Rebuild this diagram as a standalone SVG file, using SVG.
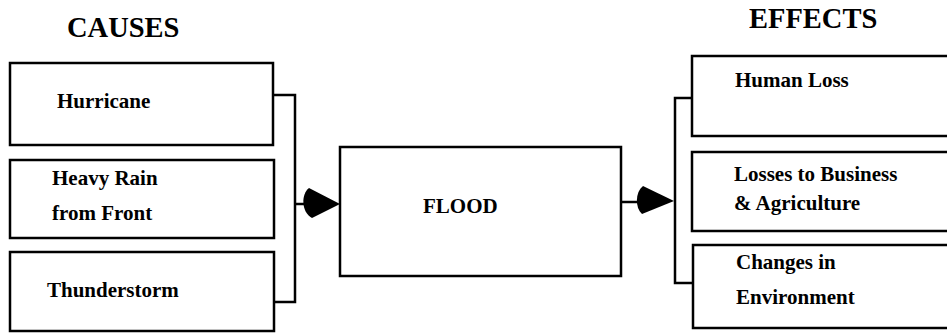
<svg xmlns="http://www.w3.org/2000/svg" width="947" height="334" viewBox="0 0 947 334">
<style>
.box{fill:#fff;stroke:#000;stroke-width:2.5}
.t{font-weight:bold;font-size:21px;fill:#000}
.h{font-weight:bold;font-size:28.5px;fill:#000}
.ln{fill:none;stroke:#000;stroke-width:2.5}
.ah{fill:#000;stroke:none}
</style>
<rect width="947" height="334" fill="#fff"/>
<g font-family="'Liberation Serif', 'Times New Roman', 'DejaVu Serif', serif">
<text class="h" x="67" y="37">CAUSES</text>
<text class="h" x="749" y="28">EFFECTS</text>
<g id="connectors">
<polyline class="ln" points="273,95 295,95 295,302 274,302"/>
<line class="ln" x1="295" y1="204" x2="306" y2="204"/>
<path class="ah" d="M340,204 L309,188 C301,194 301,212 312,218 Z"/>
<line class="ln" x1="621" y1="202" x2="640" y2="202"/>
<polyline class="ln" points="692,98 675,98 675,283 693,283"/>
<path class="ah" d="M674,201 L643,186 C635,192 635,208 642,214 Z"/>
</g>
<g id="hurricane"><rect class="box" x="10" y="63" width="263" height="82"/><text class="t" x="57" y="108">Hurricane</text></g>
<g id="heavy-rain"><rect class="box" x="10" y="160" width="264" height="78"/><text class="t" x="52" y="185">Heavy Rain</text><text class="t" x="52" y="220">from Front</text></g>
<g id="thunderstorm"><rect class="box" x="10" y="252" width="264" height="79"/><text class="t" x="47" y="297">Thunderstorm</text></g>
<g id="flood"><rect class="box" x="340" y="147" width="281" height="129"/><text class="t" x="423" y="213">FLOOD</text></g>
<g id="human-loss"><rect class="box" x="692" y="56" width="270" height="80"/><text class="t" x="735" y="87">Human Loss</text></g>
<g id="business"><rect class="box" x="692" y="152" width="270" height="79"/><text class="t" x="734" y="181">Losses to Business</text><text class="t" x="734" y="210">&amp; Agriculture</text></g>
<g id="environment"><rect class="box" x="693" y="245" width="270" height="83"/><text class="t" x="736" y="269">Changes in</text><text class="t" x="736" y="304">Environment</text></g>
</g>
</svg>
